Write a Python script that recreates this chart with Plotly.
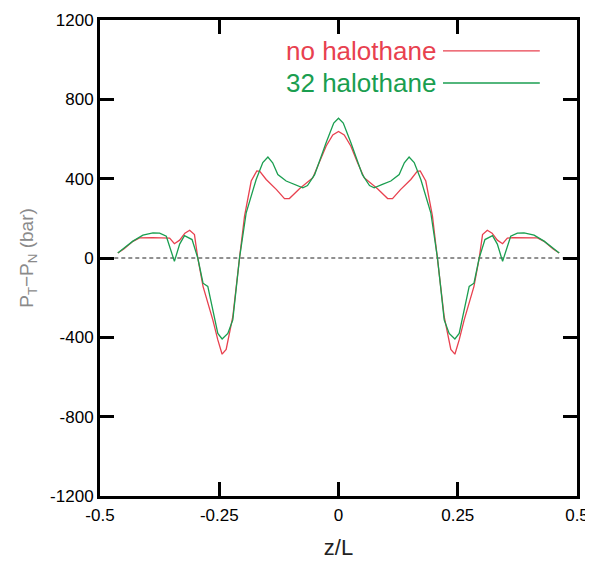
import plotly.graph_objects as go

# ---- data ----
z_red = [-0.4627, -0.45, -0.431, -0.417, -0.39, -0.365, -0.354, -0.344, -0.333, -0.322,
         -0.312, -0.302, -0.295, -0.284, -0.2635, -0.253, -0.244, -0.2355, -0.2216, -0.2075,
         -0.197, -0.183, -0.1713, -0.165, -0.1516, -0.13, -0.1132, -0.103, -0.0818, -0.0538,
         -0.04, -0.0258, -0.012, 0.0,
         0.012, 0.0258, 0.04, 0.0538, 0.0818, 0.103, 0.1132, 0.13, 0.1516, 0.165,
         0.1713, 0.183, 0.197, 0.2075, 0.2216, 0.2355, 0.244, 0.253, 0.2635, 0.284,
         0.295, 0.302, 0.312, 0.322, 0.333, 0.344, 0.354, 0.365, 0.39, 0.417,
         0.431, 0.45, 0.4627]
p_red = [25, 45, 84, 101, 103, 103, 100, 72, 90, 125,
         140, 118, 0, -143, -312, -413, -485, -461, -296, 0,
         211, 388, 439, 437, 396, 345, 299, 300, 349, 405,
         480, 565, 620, 638,
         620, 565, 480, 405, 349, 300, 299, 345, 396, 437,
         439, 388, 211, 0, -296, -461, -485, -413, -312, -143,
         0, 118, 140, 125, 90, 72, 100, 103, 103, 101,
         84, 45, 25]

z_green = [-0.4627, -0.45, -0.431, -0.41, -0.389, -0.375, -0.361, -0.344, -0.333, -0.3229,
           -0.307, -0.295, -0.284, -0.274, -0.253, -0.244, -0.232, -0.2216, -0.2075, -0.1935,
           -0.1726, -0.1587, -0.148, -0.138, -0.1272, -0.1097, -0.092, -0.0748, -0.065, -0.05,
           -0.0258, -0.01, 0.0,
           0.01, 0.0258, 0.05, 0.065, 0.0748, 0.092, 0.1097, 0.1272, 0.138, 0.148,
           0.1587, 0.1726, 0.1935, 0.2075, 0.2216, 0.232, 0.244, 0.253, 0.274, 0.284,
           0.295, 0.307, 0.3229, 0.333, 0.344, 0.361, 0.375, 0.389, 0.41, 0.431,
           0.45, 0.4627]
p_green = [25, 50, 85, 115, 127, 125, 110, -17, 70, 113,
           93, 0, -127, -143, -380, -408, -380, -312, 0, 228,
           396, 481, 509, 480, 421, 388, 371, 354, 365, 420,
           582, 680, 705,
           680, 582, 420, 365, 354, 371, 388, 421, 480, 509,
           481, 396, 228, 0, -312, -380, -408, -380, -143, -127,
           0, 93, 113, 70, -17, 110, 125, 127, 115, 85,
           50, 25]

zero_z = [-0.47, 0.47]
zero_p = [0, 0]

x_ticks = [-0.5, -0.25, 0, 0.25, 0.5]
x_ticklabels = ["-0.5", "-0.25", "0", "0.25", "0.5"]
y_ticks = [-1200, -800, -400, 0, 400, 800, 1200]
y_ticklabels = ["-1200", "-800", "-400", "0", "400", "800", "1200"]

series_names = ["no halothane", "32 halothane"]
RED = "#e8414f"
GREEN = "#1a9e50"

fig = go.Figure()
fig.add_trace(go.Scatter(x=zero_z, y=zero_p, mode="lines",
                         line=dict(color="#222222", width=1, dash="4px,3px"),
                         showlegend=False, hoverinfo="skip"))
fig.add_trace(go.Scatter(x=z_red, y=p_red, mode="lines", name=series_names[0],
                         line=dict(color=RED, width=1.3), showlegend=False))
fig.add_trace(go.Scatter(x=z_green, y=p_green, mode="lines", name=series_names[1],
                         line=dict(color=GREEN, width=1.3), showlegend=False))

font = "Liberation Sans, Arial, sans-serif"

# legend drawn as text followed by a line sample
leg_y = [0.935, 0.8676]
for name, col, yy in zip(series_names, [RED, GREEN], leg_y):
    fig.add_annotation(x=0.708, y=yy, xref="paper", yref="paper", text=name,
                       showarrow=False, xanchor="right", yanchor="middle",
                       font=dict(family=font, size=26, color=col))
    fig.add_shape(type="line", xref="paper", yref="paper", x0=0.719, x1=0.922,
                  y0=yy, y1=yy, line=dict(color=col, width=1.3))

axis_common = dict(showline=True, linecolor="black", linewidth=3, mirror="ticks",
                   ticks="inside", ticklen=14, tickwidth=3, tickcolor="black",
                   showgrid=False, zeroline=False, automargin=False,
                   tickfont=dict(family=font, size=17, color="black"))

fig.update_xaxes(range=[-0.5, 0.5], tickvals=x_ticks, ticktext=x_ticklabels,
                 ticklabelstandoff=2,
                 title=dict(text="z/L", font=dict(family=font, size=22, color="#222"), standoff=16),
                 **axis_common)
fig.update_yaxes(range=[-1200, 1200], tickvals=y_ticks, ticktext=y_ticklabels,
                 title=dict(text="P<sub>T</sub>−P<sub>N</sub> (bar)",
                            font=dict(family=font, size=19, color="#8a8a8a"), standoff=12),
                 **axis_common)

# page body adds an 8px offset, so the figure is sized/margined to place the
# plot frame at the reference position in the 593x565 window
fig.update_layout(width=585, height=557, plot_bgcolor="white", paper_bgcolor="white",
                  margin=dict(l=92, r=16, t=12, b=69))

fig.write_html("out.html")
